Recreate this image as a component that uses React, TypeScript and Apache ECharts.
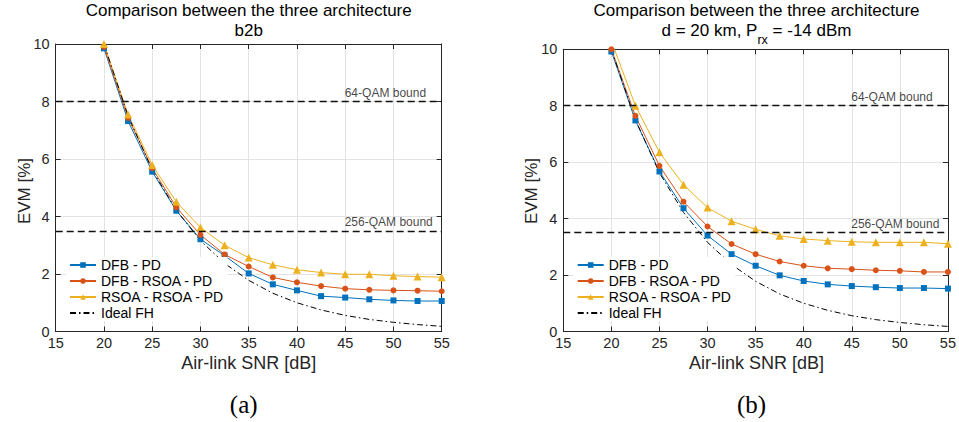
import React, { useEffect, useRef } from "react";
import * as echarts from "echarts";

// ---------- data ----------
const snr = [20, 22.5, 25, 27.5, 30, 32.5, 35, 37.5, 40, 42.5, 45, 47.5, 50, 52.5, 55];

// (a) b2b
const b2bDfbPd = [9.85, 7.32, 5.56, 4.2, 3.21, 2.64, 2.02, 1.64, 1.43, 1.23, 1.18, 1.12, 1.08, 1.06, 1.06];
const b2bDfbRsoaPd = [9.9, 7.43, 5.68, 4.32, 3.36, 2.68, 2.26, 1.88, 1.71, 1.58, 1.49, 1.45, 1.43, 1.42, 1.4];
const b2bRsoaRsoaPd = [10.0, 7.55, 5.79, 4.51, 3.62, 3.0, 2.57, 2.32, 2.15, 2.05, 1.99, 1.99, 1.94, 1.91, 1.89];

// (b) d = 20 km, Prx = -14 dBm
const km20DfbPd = [9.92, 7.48, 5.67, 4.37, 3.4, 2.74, 2.33, 1.99, 1.79, 1.67, 1.61, 1.57, 1.54, 1.54, 1.52];
const km20DfbRsoaPd = [10.0, 7.64, 5.87, 4.6, 3.72, 3.1, 2.74, 2.48, 2.33, 2.24, 2.21, 2.17, 2.15, 2.11, 2.11];
const km20RsoaRsoaPd = [10.3, 8.0, 6.35, 5.2, 4.39, 3.91, 3.62, 3.39, 3.28, 3.22, 3.18, 3.16, 3.16, 3.16, 3.11];

// ideal frequency hopping reference (same on both panels)
const idealFh = [10.0, 7.5, 5.62, 4.22, 3.16, 2.37, 1.78, 1.33, 1.0, 0.75, 0.56, 0.42, 0.32, 0.24, 0.18];

const seriesNames = ["DFB - PD", "DFB - RSOA - PD", "RSOA - RSOA - PD", "Ideal FH"];
const boundValues = [8, 3.5];
const boundLabels = ["64-QAM bound", "256-QAM bound"];
const boundLabelX = 45;

const xMin = 15;
const xMax = 55;
const xStep = 5;
const yMin = 0;
const yMax = 10;
const yStep = 2;

const titleLine1 = "Comparison between the three architecture";
const titleB2b = "b2b";
const titleKmA = "d = 20 km, P";
const titleKmSub = "rx";
const titleKmB = " = -14 dBm";
const xLabel = "Air-link SNR [dB]";
const yLabel = "EVM [%]";
const panelLabels = ["(a)", "(b)"];

// ---------- styles ----------
const FONT = '"Liberation Sans", Arial, Helvetica, sans-serif';
const SERIF = '"Liberation Serif", "DejaVu Serif", serif';
const AXIS_COLOR = "#262626";
const GRID_COLOR = "#e3e3e3";
const COLORS = ["#0072BD", "#D95319", "#EDB120"];
const SYMBOLS = ["rect", "circle", "triangle"];
const SYMBOL_SIZES = [6, 6, 8];

const TICK_FONT = 14.5;
const XLABEL_FONT = 18;
const YLABEL_FONT = 17;
const TITLE_FONT = 17;
const TITLE_LH = 20.5;
const SUB_FONT = 12.5;
const LEGEND_FONT = 14;
const BOUND_FONT = 12;

const grids = [
  { left: 55.7, top: 44, width: 386, height: 287.5 },
  { left: 563.3, top: 49.3, width: 386.4, height: 282.2 },
];

function buildOption() {
  const xAxes: any[] = [];
  const yAxes: any[] = [];
  grids.forEach((_, gi) => {
    const common = {
      type: "value",
      gridIndex: gi,
      axisLine: { show: true, onZero: false, lineStyle: { color: AXIS_COLOR, width: 1 } },
      axisTick: { show: true, inside: true, length: 5, lineStyle: { color: AXIS_COLOR, width: 1 } },
    };
    xAxes.push({
      ...common,
      position: "bottom",
      min: xMin,
      max: xMax,
      interval: xStep,
      axisLabel: { fontSize: TICK_FONT, color: AXIS_COLOR, fontFamily: FONT, margin: 4 },
      splitLine: { show: true, lineStyle: { color: GRID_COLOR, width: 1 } },
    });
    xAxes.push({
      ...common,
      position: "top",
      min: xMin,
      max: xMax,
      interval: xStep,
      axisLabel: { show: false },
      splitLine: { show: false },
    });
    yAxes.push({
      ...common,
      position: "left",
      min: yMin,
      max: yMax,
      interval: yStep,
      axisLabel: { fontSize: TICK_FONT, color: AXIS_COLOR, fontFamily: FONT, margin: 6 },
      splitLine: { show: true, lineStyle: { color: GRID_COLOR, width: 1 } },
    });
    yAxes.push({
      ...common,
      position: "right",
      min: yMin,
      max: yMax,
      interval: yStep,
      axisLabel: { show: false },
      splitLine: { show: false },
    });
  });

  const panels = [
    [b2bDfbPd, b2bDfbRsoaPd, b2bRsoaRsoaPd],
    [km20DfbPd, km20DfbRsoaPd, km20RsoaRsoaPd],
  ];

  const series: any[] = [];
  panels.forEach((curves, gi) => {
    const axisIdx = gi * 2;
    curves.forEach((vals, ci) => {
      series.push({
        type: "line",
        name: seriesNames[ci],
        xAxisIndex: axisIdx,
        yAxisIndex: axisIdx,
        data: snr.map((x, i) => [x, vals[i]]),
        symbol: SYMBOLS[ci],
        symbolSize: SYMBOL_SIZES[ci],
        showSymbol: true,
        clip: true,
        itemStyle: { color: COLORS[ci] },
        lineStyle: { color: COLORS[ci], width: 1 },
        emphasis: { disabled: true },
        silent: true,
      });
    });
    series.push({
      type: "line",
      name: seriesNames[3],
      xAxisIndex: axisIdx,
      yAxisIndex: axisIdx,
      data: snr.map((x, i) => [x, idealFh[i]]),
      symbol: "none",
      showSymbol: false,
      clip: true,
      itemStyle: { color: "#000" },
      lineStyle: { color: "#000", width: 1, type: [6, 3, 1.5, 3] },
      emphasis: { disabled: true },
      silent: true,
    });
    series.push({
      type: "scatter",
      name: "bounds",
      xAxisIndex: axisIdx,
      yAxisIndex: axisIdx,
      symbolSize: 1,
      itemStyle: { color: "rgba(0,0,0,0)" },
      silent: true,
      z: 5,
      data: boundValues.map((v, i) => ({
        value: [boundLabelX, v],
        label: {
          show: true,
          formatter: boundLabels[i],
          position: [0, -2],
          align: "left",
          verticalAlign: "bottom",
          fontSize: BOUND_FONT,
          fontFamily: FONT,
          color: "#111",
        },
      })),
      markLine: {
        silent: true,
        symbol: ["none", "none"],
        label: { show: false },
        lineStyle: { color: "#111", width: 1.3, type: [7, 4] },
        data: boundValues.map((v) => ({ yAxis: v })),
      },
    });
  });

  const legendData = seriesNames.map((n, i) =>
    i === 3 ? { name: n, itemStyle: { opacity: 0 } } : { name: n }
  );

  const legends = [69, 576.7].map((lineLeft) => ({
    data: legendData,
    orient: "vertical",
    left: lineLeft - 3,
    top: 257,
    itemWidth: 26,
    itemHeight: 7,
    itemGap: 2,
    padding: [1, 3, 1, 3],
    backgroundColor: "#fff",
    selectedMode: false,
    textStyle: { fontSize: LEGEND_FONT, fontFamily: FONT, color: "#000", lineHeight: 14 },
  }));

  // titles and labels
  const graphic: any[] = [];
  const txt = (text: string, x: number, y: number, size: number, extra: any = {}) => ({
    type: "text",
    x,
    y,
    silent: true,
    rotation: extra.rotation || 0,
    style: {
      text,
      font: `${size}px ${extra.family || FONT}`,
      fill: extra.fill || "#000",
      textAlign: "center",
      align: "center",
      textVerticalAlign: "middle",
      verticalAlign: "middle",
    },
  });

  const cx = grids.map((g) => g.left + g.width / 2);
  const titleRich = {
    t: { fontSize: TITLE_FONT, fontFamily: FONT, lineHeight: TITLE_LH, verticalAlign: "middle", color: "#000" },
    s: {
      fontSize: SUB_FONT,
      fontFamily: FONT,
      verticalAlign: "bottom",
      padding: [0, 0, -5.5, 0],
      color: "#000",
    },
  };
  const titleTexts = [
    `{t|${titleLine1}}\n{t|${titleB2b}}`,
    `{t|${titleLine1}}\n{t|${titleKmA}}{s|${titleKmSub}}{t|${titleKmB}}`,
  ];
  titleTexts.forEach((t, gi) => {
    graphic.push({
      type: "text",
      x: cx[gi],
      y: 10 - TITLE_LH / 2,
      silent: true,
      style: {
        text: t,
        rich: titleRich,
        font: `${TITLE_FONT}px ${FONT}`,
        lineHeight: TITLE_LH,
        fill: "#000",
        textAlign: "center",
        align: "center",
        textVerticalAlign: "top",
        verticalAlign: "top",
      },
    });
  });

  grids.forEach((g, gi) => {
    graphic.push(txt(xLabel, cx[gi], 363, XLABEL_FONT, { fill: AXIS_COLOR }));
    graphic.push(
      txt(yLabel, g.left - 31.7, 191, YLABEL_FONT, { rotation: Math.PI / 2, fill: AXIS_COLOR })
    );
    graphic.push(txt(panelLabels[gi], cx[gi] - 5, 404, 25, { family: SERIF }));
  });

  return {
    animation: false,
    backgroundColor: "#fff",
    grid: grids.map((g) => ({ ...g, containLabel: false })),
    xAxis: xAxes,
    yAxis: yAxes,
    legend: legends,
    series,
    graphic,
  };
}

export default function App() {
  const ref = useRef<HTMLDivElement>(null);
  useEffect(() => {
    if (!ref.current) return;
    const chart = echarts.init(ref.current, undefined, { renderer: "svg" });
    chart.setOption(buildOption() as any);
    return () => chart.dispose();
  }, []);
  return (
    <div
      ref={ref}
      style={{ position: "absolute", left: 0, top: 0, width: 959, height: 422, background: "#fff" }}
    />
  );
}
